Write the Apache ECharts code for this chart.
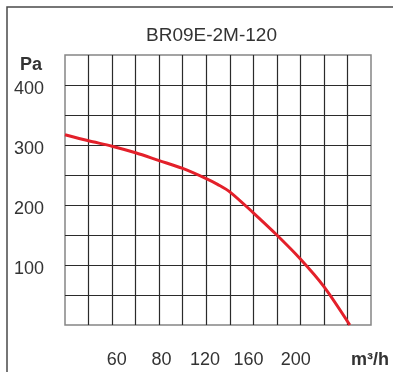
<!DOCTYPE html>
<html>
<head>
<meta charset="utf-8">
<script src="https://cdn.jsdelivr.net/npm/echarts@6/dist/echarts.min.js"></script>
<style>
  html, body { margin: 0; padding: 0; background: #fff; }
  #chart { width: 393px; height: 372px; }
</style>
</head>
<body>
<div id="chart"></div>
<script>
// Fan curve BR09E-2M-120: static pressure (Pa) against airflow.
// Airflow is expressed in grid-column units (13 columns across the plot).
const chartTitle = 'BR09E-2M-120';
const flowColumns = [0, 1, 2, 3, 4, 5, 6, 6.5, 7, 8, 9, 10, 11, 12.1];
const pressurePa = [317, 307, 298, 287, 274, 261, 244, 234, 222, 187, 150, 110, 64, 0];
const xTickLabels = ['60', '80', '120', '160', '200'];
const xTickColumns = [2.2, 4.1, 5.95, 7.8, 9.8];
const yTickLabels = [100, 200, 300, 400];

const font = 'Liberation Sans, Arial, Helvetica, sans-serif';
const chart = echarts.init(document.getElementById('chart'), null, { renderer: 'canvas' });

chart.setOption({
  animation: false,
  backgroundColor: '#fff',
  title: {
    text: chartTitle,
    left: 146,
    top: 26,
    padding: 0,
    textStyle: { fontFamily: font, fontSize: 19, fontWeight: 'normal', color: '#333' }
  },
  graphic: [{
    type: 'rect',
    shape: { x: 7, y: 7, width: 420, height: 420 },
    style: { fill: 'none', stroke: '#4a4a4a', lineWidth: 1.5 },
    silent: true
  }],
  grid: {
    left: 65, top: 55, width: 306, height: 270,
    show: true, borderColor: '#858585', borderWidth: 1.5, backgroundColor: 'transparent'
  },
  xAxis: {
    type: 'value', min: 0, max: 13, interval: 1,
    name: 'm³/h', nameLocation: 'end', nameGap: -20,
    nameTextStyle: {
      fontFamily: font, fontSize: 18, fontWeight: 'bold', color: '#333',
      align: 'left', verticalAlign: 'top', padding: [26, 0, 0, 0]
    },
    axisLine: { show: false },
    axisTick: { show: false },
    splitLine: { show: true, showMinLine: false, showMaxLine: false, lineStyle: { color: '#2b2b2b', width: 1.2 } },
    axisLabel: {
      customValues: xTickColumns,
      margin: 26,
      fontFamily: font, fontSize: 18, color: '#333',
      formatter: function (v) {
        const i = xTickColumns.findIndex(function (c) { return Math.abs(c - v) < 1e-6; });
        return i >= 0 ? xTickLabels[i] : '';
      }
    }
  },
  yAxis: {
    type: 'value', min: 0, max: 450, interval: 50,
    name: 'Pa', nameLocation: 'end', nameGap: -10,
    nameTextStyle: {
      fontFamily: font, fontSize: 18, fontWeight: 'bold', color: '#333',
      align: 'right', verticalAlign: 'middle', padding: [0, 23, 0, 0]
    },
    axisLine: { show: false },
    axisTick: { show: false },
    splitLine: { show: true, showMinLine: false, showMaxLine: false, lineStyle: { color: '#2b2b2b', width: 1.2 } },
    axisLabel: {
      margin: 21,
      fontFamily: font, fontSize: 18, color: '#333',
      rich: { v: { fontFamily: font, fontSize: 18, color: '#333', padding: [9, 0, 0, 0] } },
      formatter: function (v) { return yTickLabels.indexOf(v) >= 0 ? '{v|' + v + '}' : ''; }
    }
  },
  series: [{
    type: 'line',
    data: flowColumns.map(function (x, i) { return [x, pressurePa[i]]; }),
    smooth: 0.3,
    showSymbol: false,
    lineStyle: { color: '#e3202a', width: 3 },
    z: 5
  }]
});
</script>
</body>
</html>
